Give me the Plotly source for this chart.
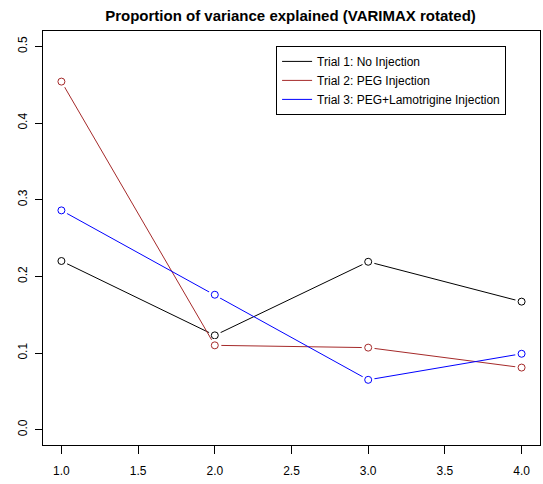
import plotly.graph_objects as go

# Rotated-factor index and proportion of variance explained per trial
components = [1, 2, 3, 4]
trial1 = [0.220, 0.123, 0.219, 0.167]
trial2 = [0.454, 0.110, 0.107, 0.081]
trial3 = [0.286, 0.176, 0.065, 0.099]

series = [
    ("Trial 1: No Injection", trial1, "#000000"),
    ("Trial 2: PEG Injection", trial2, "#A52A2A"),
    ("Trial 3: PEG+Lamotrigine Injection", trial3, "#0000FF"),
]

x_ticks = [1.0, 1.5, 2.0, 2.5, 3.0, 3.5, 4.0]
y_ticks = [0.0, 0.1, 0.2, 0.3, 0.4, 0.5]

FONT = "Liberation Sans, Arial, Helvetica, sans-serif"

fig = go.Figure()
for name, vals, color in series:
    # connecting line
    fig.add_trace(go.Scatter(x=components, y=vals, mode="lines", name=name,
                             line=dict(color=color, width=1)))
    # white halo so the line stops short of each point (type "b" look)
    fig.add_trace(go.Scatter(x=components, y=vals, mode="markers", showlegend=False,
                             hoverinfo="skip",
                             marker=dict(symbol="circle", size=13, color="white",
                                         line=dict(width=0))))
    # open circle point
    fig.add_trace(go.Scatter(x=components, y=vals, mode="markers", showlegend=False,
                             marker=dict(symbol="circle-open", size=7, color=color,
                                         line=dict(width=1, color=color))))

axis_common = dict(showgrid=False, zeroline=False, showline=True, mirror=True,
                   linecolor="#000000", linewidth=1, ticks="outside",
                   tickcolor="#000000", tickwidth=1,
                   tickfont=dict(family=FONT, size=12, color="#000000"))

fig.update_layout(
    width=543, height=484,
    margin=dict(l=43, r=3, t=31, b=39),
    paper_bgcolor="white", plot_bgcolor="white",
    title=dict(text="<b>Proportion of variance explained (VARIMAX rotated)</b>",
               x=0.535, xanchor="center", y=0.967, yanchor="middle",
               font=dict(family=FONT, size=15, color="#000000")),
    xaxis=dict(range=[0.88, 4.12], tickvals=x_ticks, ticklen=8, ticklabelstandoff=7,
               ticktext=[f"{v:.1f}" for v in x_ticks], **axis_common),
    yaxis=dict(range=[-0.02, 0.52], tickvals=y_ticks, ticklen=7, ticklabelstandoff=3,
               ticktext=[f"{v:.1f}" for v in y_ticks], tickangle=-90, **axis_common),
    legend=dict(x=0.469, y=0.964, xanchor="left", yanchor="top",
                bgcolor="white", bordercolor="#000000", borderwidth=1,
                font=dict(family=FONT, size=12, color="#000000"),
                itemwidth=30, tracegroupgap=0),
    showlegend=True,
)

fig.write_html("out.html")
